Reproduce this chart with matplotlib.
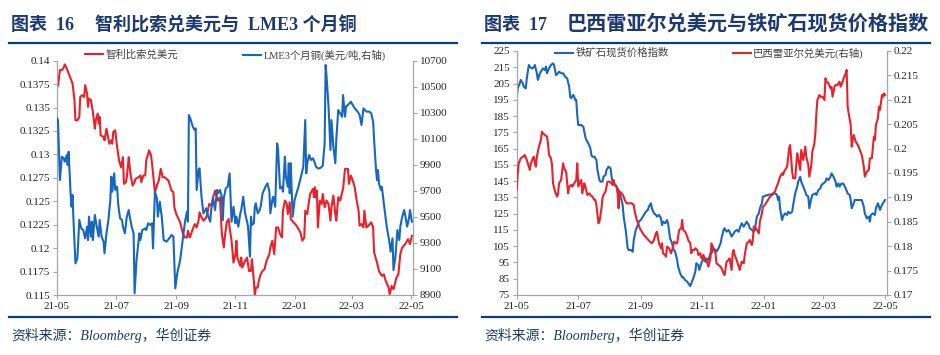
import pandas as pd
import matplotlib.pyplot as plt
from matplotlib.lines import Line2D
from matplotlib.ticker import FuncFormatter

plt.rcParams['font.family'] = ['Liberation Serif', 'Noto Sans CJK SC']

# ---------------- data (days counted from 2021-05-01) ----------------
clp_days = [0, 1, 3, 5, 7, 8, 10, 12, 14, 16,
            18, 19, 21, 23, 24, 26, 28, 29, 31, 32,
            33, 35, 37, 39, 40, 42, 43, 44, 45, 48,
            49, 51, 52, 54, 56, 57, 58, 60, 62, 64,
            66, 68, 69, 71, 72, 74, 75, 76, 78, 80,
            81, 84, 86, 87, 89, 91, 92, 95, 97, 98,
            101, 103, 105, 107, 109, 111, 115, 118, 120, 121,
            123, 127, 130, 132, 134, 135, 137, 140, 142, 144,
            146, 147, 149, 151, 154, 157, 159, 161, 163, 165,
            166, 168, 170, 172, 173, 175, 177, 178, 180, 182,
            184, 185, 186, 189, 190, 191, 194, 196, 198,
            200, 201, 203, 204, 205, 207, 208, 210, 212, 214,
            216, 219, 220, 222, 224, 226, 228, 230, 232, 233,
            235, 237, 238, 240, 241, 244, 247, 251, 253, 255,
            256, 258, 261, 264, 265, 266, 267, 268, 269, 271,
            273, 274, 276, 278, 280, 282, 283, 285, 287, 288,
            290, 292, 294, 295, 297, 300, 301, 303, 305, 307,
            309, 311, 312, 314, 316, 317, 319, 321, 324, 326,
            327, 330, 332, 335, 337, 339, 342, 343, 345, 347,
            350, 352, 354, 356, 359, 362, 364, 366]
clp_usd = [0.13829, 0.13729, 0.13900, 0.13900, 0.13929, 0.13961, 0.13918, 0.13864, 0.13811, 0.13757,
           0.13579, 0.13364, 0.13364, 0.13400, 0.13614, 0.13632, 0.13614, 0.13739, 0.13650, 0.13507,
           0.13596, 0.13579, 0.13454, 0.13275, 0.13364, 0.13436, 0.13329, 0.13400, 0.13204, 0.13186,
           0.13150, 0.13275, 0.13221, 0.13114, 0.13150, 0.13114, 0.13239, 0.13257, 0.13079, 0.12936,
           0.12864, 0.12971, 0.12686, 0.12704, 0.12757, 0.12971, 0.12864, 0.12775, 0.12668, 0.12704,
           0.12739, 0.12757, 0.12775, 0.12704, 0.12775, 0.12775, 0.12936, 0.13043, 0.12989, 0.12900,
           0.12596, 0.12668, 0.12721, 0.12846, 0.12757, 0.12757, 0.12721, 0.12614, 0.12596, 0.12436,
           0.12364, 0.12275, 0.12150, 0.12114, 0.12114, 0.12186, 0.12114, 0.12204, 0.12257, 0.12221,
           0.12293, 0.12382, 0.12329, 0.12293, 0.12329, 0.12471, 0.12454, 0.12543, 0.12614, 0.12543,
           0.12507, 0.12543, 0.12150, 0.12007, 0.12114, 0.12275, 0.12311, 0.12221, 0.12079, 0.11846,
           0.11936, 0.12079, 0.11900, 0.11811, 0.11900, 0.11793, 0.11864, 0.11900, 0.11757,
           0.11757, 0.11882, 0.11650, 0.11489, 0.11579, 0.11579, 0.11650, 0.11721, 0.11757, 0.11775,
           0.11864, 0.11936, 0.12007, 0.12079, 0.11936, 0.12221, 0.12221, 0.12150, 0.12114, 0.12400,
           0.12507, 0.12471, 0.12364, 0.12489, 0.12311, 0.12275, 0.12239, 0.12168, 0.12079, 0.12114,
           0.12400, 0.12364, 0.12579, 0.12632, 0.12543, 0.12650, 0.12543, 0.12614, 0.12221, 0.12507,
           0.12471, 0.12579, 0.12436, 0.12507, 0.12471, 0.12293, 0.12436, 0.12561, 0.12364, 0.12293,
           0.12543, 0.12507, 0.12596, 0.12632, 0.12846, 0.12846, 0.12686, 0.12775, 0.12721, 0.12650,
           0.12507, 0.12400, 0.12239, 0.12257, 0.12221, 0.12400, 0.12221, 0.12239, 0.12275, 0.12221,
           0.11954, 0.11846, 0.11757, 0.11704, 0.11721, 0.11650, 0.11579, 0.11507, 0.11596, 0.11561,
           0.11686, 0.11721, 0.11936, 0.12007, 0.12043, 0.12096, 0.12043, 0.12132]

cu_days = [0, 1, 3, 5, 7, 8, 10, 11, 12, 14,
           15, 16, 17, 19, 21, 23, 25, 27, 29, 31,
           32, 33, 35, 36, 37, 39, 41, 43, 44, 46,
           48, 49, 51, 53, 55, 56, 57, 59, 60, 62,
           63, 65, 67, 68, 70, 72, 74, 75, 77, 79,
           80, 82, 85, 86, 88, 91, 92, 94, 96, 98,
           99, 101, 103, 104, 106, 108, 110, 113, 117, 118,
           120, 122, 124, 127, 130, 132, 134, 135, 136, 138,
           140, 142, 143, 144, 146, 147, 149, 151, 153, 154,
           156, 158, 159, 161, 163, 165, 166, 168, 170, 171,
           172, 174, 176, 178,
           180, 182, 184, 185, 187, 189, 190, 192, 194, 196,
           197, 199, 200, 201, 203, 204, 205, 207, 209, 210,
           212, 215, 217, 219, 220, 222, 223, 225, 227, 228,
           230, 232, 233, 235, 236, 238, 239, 240, 241, 243,
           245, 249, 252, 254, 256, 257, 258, 260, 262, 264,
           266, 267, 269, 271, 274, 276, 277, 278, 280, 282,
           283, 285, 287, 288, 290, 292, 294, 295, 297, 298,
           300, 303, 305, 307, 310, 312, 314, 316, 319, 322,
           324, 326, 327, 329, 330, 331, 332, 334, 335, 337,
           340, 343, 344, 346, 347, 349, 350, 351, 353, 354,
           356, 358, 360, 361, 363, 364, 366]
lme3_cu = [10257, 10244, 9783, 9963, 9950, 9924, 9975, 9899, 10001, 9681,
           9578, 9668, 9476, 9143, 9182, 9476, 9412, 9399, 9335, 9425,
           9322, 9502, 9348, 9463, 9322, 9515, 9425, 9348, 9476, 9348,
           9310, 9220, 9374, 9476, 9630, 9809, 9694, 9835, 9707, 9732,
           9604, 9489, 9476, 9425, 9374, 9502, 9553, 9502, 9425, 9374,
           8913, 9169, 9374, 9322, 9399, 9412, 9399, 9451, 9438, 9451,
           9258, 9694, 9643, 9502, 9617, 9502, 9322, 9310, 9348, 9361,
           9348, 8951, 9067, 9169, 9348, 9463, 9540, 9463, 10283, 10244,
           10193, 10167, 10180, 9707, 9860, 9873, 9655, 9527, 9553, 9566,
           9502, 9463, 9553, 9643, 9553, 9707, 9681, 9707, 9655, 9476,
           9643, 9719, 9732, 9835,
           9463, 9578, 9451, 9502, 9425, 9527, 9553, 9655, 9527, 9463,
           9425, 9194, 9502, 9438, 9451, 9578, 9604, 9527, 9553, 9578,
           9681, 9732, 9758, 9694, 9527, 9630, 9655, 9578, 10065, 10014,
           9719, 9732, 9694, 9963, 9809, 9732, 9912, 9681, 9912, 9502,
           9630, 9732, 9822, 9886, 10244, 9835, 9912, 9976, 9937, 9950,
           9912, 9886, 9873, 9873, 9891, 10065, 10667, 10577, 10347, 10014,
           10244, 10039, 9912, 10091, 10321, 10296, 10270, 10436, 10270, 10347,
           10360, 10385, 10360, 10334, 10309, 10283, 10206, 10334, 10309, 10309,
           10296, 10232, 10091, 9860, 9783, 9860, 9758, 9707, 9732, 9604,
           9425, 9297, 9233, 9335, 9092, 9194, 9297, 9399, 9322, 9425,
           9502, 9553, 9476, 9425, 9489, 9553, 9463]

ore_days = [0, 1, 3, 4, 6, 7, 9, 10, 12, 13,
            15, 17, 18, 20, 21, 23, 25, 26, 28, 29,
            30, 32, 34, 36, 37, 39, 41, 42, 44, 46,
            48, 50, 52, 53, 54, 56, 57, 58, 59, 60,
            61, 63, 64, 66, 68, 69, 71, 73, 74, 75,
            77, 79, 80, 82, 83, 85, 86, 88, 89, 91,
            93, 94, 95, 96, 98, 99, 101, 103, 105, 106,
            108, 110, 111, 113, 115, 116, 118, 120, 121, 123,
            125, 126, 128, 130, 131, 133, 134, 136, 138, 139,
            141, 143, 144, 145, 147, 149, 150, 152, 154, 155,
            157, 159, 160, 162, 164, 165, 167, 169, 170, 172,
            173, 175, 177, 178, 180, 181,
            183, 185, 187, 188, 190, 192, 193, 195, 197, 198,
            200, 202, 203, 205, 206, 208, 210, 211, 213, 215,
            216, 218, 220, 221, 223, 225, 226, 228, 230, 231,
            233, 235, 236, 238, 240, 241, 243, 244, 246, 249,
            253, 256, 258, 259, 260, 261, 263, 264, 266, 268,
            269, 271, 273, 274, 276, 278, 279, 281, 282, 284,
            286, 287, 289, 290, 292, 293, 296, 297, 299, 301,
            302, 304, 306, 307, 309, 311, 312, 314, 316, 317,
            319, 320, 322, 324, 326, 328, 330, 331, 332, 334,
            335, 337, 340, 342, 344, 345, 347, 349, 350, 351,
            353, 355, 356, 358, 359, 360, 362, 363, 365]
ore_index = [195.9, 202.0, 205.1, 207.2, 205.1, 203.1, 202.0, 208.2, 216.4, 215.4,
             214.3, 215.0, 216.4, 211.3, 207.2, 211.3, 213.3, 214.3, 213.3, 215.4,
             211.3, 214.3, 216.4, 217.4, 216.4, 210.2, 211.3, 212.3, 211.3, 211.3,
             209.2, 208.2, 203.1, 196.9, 195.9, 198.0, 196.9, 194.9, 194.9, 185.7,
             179.5, 179.5, 179.5, 178.5, 172.3, 170.3, 168.2, 165.2, 161.1, 160.0,
             160.0, 158.0, 151.8, 145.7, 144.7, 144.7, 147.7, 148.8, 151.8, 153.9,
             152.9, 147.7, 144.7, 143.6, 142.6, 141.6, 139.5, 135.5, 130.3, 123.2,
             115.0, 103.7, 102.7, 102.7, 101.6, 108.8, 115.0, 118.0, 120.1, 121.1,
             123.2, 124.2, 126.2, 127.3, 129.3, 131.4, 128.3, 125.2, 124.2, 123.2,
             124.2, 122.1, 118.0, 120.1, 119.1, 121.1, 119.1, 109.8, 106.8, 103.7,
             101.6, 96.5, 92.4, 88.3, 85.9, 85.9, 84.2, 83.2, 82.2, 80.5,
             82.2, 85.2, 89.3, 94.5, 93.4, 90.4,
             94.5, 97.5, 95.5, 97.5, 96.5, 100.6, 100.6, 103.7, 102.7, 101.6,
             103.7, 106.8, 109.8, 115.0, 116.0, 113.9, 115.0, 113.9, 110.9, 112.9,
             113.9, 115.0, 113.9, 116.0, 119.1, 117.0, 118.0, 120.1, 118.0, 116.0,
             115.0, 113.9, 115.0, 123.2, 125.2, 128.3, 131.4, 135.5, 135.9, 136.5,
             137.1, 137.5, 136.5, 133.4, 135.5, 128.3, 121.1, 123.2, 125.2, 124.2,
             126.2, 125.2, 126.2, 130.3, 137.5, 141.6, 144.7, 147.7, 144.7, 141.6,
             138.5, 136.5, 135.5, 128.3, 134.4, 136.5, 137.5, 136.5, 139.5, 140.6,
             142.6, 143.6, 144.7, 146.7, 145.7, 147.7, 149.8, 147.7, 144.7, 141.6,
             143.6, 141.6, 143.6, 143.2, 140.6, 137.5, 136.5, 133.4, 128.3, 131.4,
             133.4, 133.4, 133.4, 133.4, 129.3, 125.2, 122.1, 123.2, 120.1, 124.2,
             125.2, 124.2, 128.3, 131.4, 129.3, 127.3, 130.3, 131.4, 133.4]

brl_days = [0, 1, 2, 4, 6, 7, 8, 10, 12, 13,
            14, 16, 17, 18, 19, 20, 22, 24, 25, 26,
            28, 30, 31, 32, 34, 35, 36, 38, 40, 41,
            42, 44, 45, 46, 47, 49, 51, 52, 54, 55,
            57, 59, 60, 61, 63, 64, 65, 67, 68, 70,
            72, 73, 75, 77, 78, 79, 81, 82, 84, 85,
            86, 88, 89, 90, 92, 94, 95, 96, 97, 99,
            100, 101, 102, 104, 106, 107, 109, 112, 114, 116,
            117, 119, 121, 122, 124, 126, 129, 132, 134, 136,
            138, 139, 141, 143, 144, 145, 147, 148, 149, 151,
            153, 155, 156, 158, 159, 161, 163, 164, 165, 167,
            169, 170, 172, 173, 174, 176, 177, 179, 180,
            182, 183, 185, 187, 188, 190, 192, 193, 195, 197,
            198, 200, 202, 203, 205, 206, 208, 210, 211, 213,
            214, 215, 216, 218, 220, 221, 223, 225, 226, 228,
            230, 231, 233, 234, 235, 236, 238, 240, 241, 243,
            244, 246, 248, 249, 251, 253, 254, 256, 257, 259,
            260, 261, 263, 264, 265, 267, 268, 270, 271, 273,
            274, 276, 278, 279, 281, 282, 284, 286, 287, 289,
            290, 292, 293, 295, 296, 297, 298, 300, 301, 303,
            305, 306, 307, 309, 311, 312, 313, 315, 316, 318,
            320, 321, 323, 324, 326, 327, 328, 329, 331, 332,
            333, 334, 336, 337, 339, 340, 342, 344, 345, 347,
            349, 350, 352, 354, 355, 356, 358, 359, 360, 362,
            363, 364, 365]
brl_usd = [0.19152, 0.19493, 0.19698, 0.19801, 0.19835, 0.19835, 0.19869, 0.19767, 0.19630, 0.19562,
           0.19698, 0.19801, 0.19835, 0.19698, 0.19630, 0.19835, 0.20040, 0.20176, 0.20347, 0.20313,
           0.20279, 0.20245, 0.20108, 0.19869, 0.19801, 0.19664, 0.19289, 0.19118, 0.19015, 0.19084,
           0.19289, 0.19357, 0.19528, 0.19698, 0.19596, 0.19528, 0.19084, 0.19221, 0.19255, 0.19221,
           0.19289, 0.19357, 0.19698, 0.19221, 0.19323, 0.19357, 0.19084, 0.19289, 0.19221, 0.19050,
           0.19084, 0.19050, 0.19015, 0.18947, 0.18947, 0.18845, 0.18469, 0.18503, 0.18776, 0.18981,
           0.19050, 0.19118, 0.19221, 0.19323, 0.19323, 0.19289, 0.19255, 0.19357, 0.19255, 0.19221,
           0.19084, 0.18776, 0.19118, 0.19084, 0.19015, 0.18947, 0.18879, 0.18879, 0.18879, 0.18845,
           0.18708, 0.18537, 0.18435, 0.18367, 0.18298, 0.18230, 0.18162, 0.18093, 0.18059, 0.18127,
           0.18264, 0.18298, 0.18059, 0.17957, 0.18059, 0.17854, 0.17820, 0.17786, 0.17991, 0.17957,
           0.17854, 0.17991, 0.18093, 0.18059, 0.18059, 0.18333, 0.18367, 0.18537, 0.18333, 0.18298,
           0.18196, 0.18127, 0.18059, 0.17854, 0.17923, 0.17923, 0.17957, 0.17923, 0.17820,
           0.17854, 0.17752, 0.17820, 0.17718, 0.17718, 0.17581, 0.17752, 0.18059, 0.17957, 0.17854,
           0.17649, 0.17615, 0.17581, 0.17547, 0.17444, 0.17410, 0.17684, 0.17718, 0.17752, 0.17513,
           0.17854, 0.17923, 0.17820, 0.17718, 0.17581, 0.17513, 0.17684, 0.17649, 0.17820, 0.18059,
           0.18093, 0.18127, 0.18025, 0.18127, 0.18401, 0.18401, 0.18333, 0.18264, 0.18503, 0.18674,
           0.18810, 0.18845, 0.18913, 0.18947, 0.19015, 0.19050, 0.19084, 0.19118, 0.19186, 0.19289,
           0.19357, 0.19425, 0.19494, 0.19460, 0.19528, 0.19596, 0.19630, 0.20006, 0.20074, 0.19528,
           0.19391, 0.19391, 0.19903, 0.19801, 0.19562, 0.19972, 0.19767, 0.20040, 0.19835, 0.19664,
           0.19425, 0.19664, 0.19937, 0.20108, 0.20313, 0.20723, 0.20996, 0.21098, 0.21064, 0.21064,
           0.20996, 0.21440, 0.21372, 0.21337, 0.21235, 0.21269, 0.21064, 0.21269, 0.21303, 0.21303,
           0.21372, 0.21269, 0.21372, 0.21440, 0.21542, 0.21611, 0.20859, 0.20723, 0.20484, 0.20040,
           0.20176, 0.20279, 0.20142, 0.20108, 0.20040, 0.19972, 0.19869, 0.19630, 0.19425, 0.19528,
           0.19562, 0.19801, 0.19801, 0.20245, 0.20176, 0.20484, 0.20620, 0.20859, 0.20791, 0.21098,
           0.21064, 0.21132, 0.21098]

month_ticks = ['2021-05-01', '2021-07-01', '2021-09-01', '2021-11-01',
               '2022-01-01', '2022-03-01', '2022-05-01']

# ---------------- styling ----------------
W, H = 940, 355
RED = '#e8212b'
BLUE = '#1767c1'
NAVY = '#1c3a70'
RULE = '#0b3c80'
GRAY = '#a6a6a6'
TXT = '#262626'
BASE = pd.Timestamp('2021-05-01')


def to_dates(days):
    return BASE + pd.to_timedelta(days, unit='D')


def trim(v, pos):
    return f'{v:.4f}'.rstrip('0').rstrip('.')


def style(ax, ax2, xmax):
    ax.set_xlim(BASE, BASE + pd.Timedelta(days=xmax))
    ax.set_xticks(pd.to_datetime(month_ticks))
    ax.set_xticklabels([pd.Timestamp(d).strftime('%y-%m') for d in month_ticks])
    for a in (ax, ax2):
        a.spines['top'].set_visible(False)
        for s in a.spines.values():
            s.set_color(GRAY)
            s.set_linewidth(0.9)
        a.tick_params(direction='out', length=3, width=0.8, color=GRAY,
                      labelsize=8, labelcolor=TXT, pad=2)
    ax.spines['right'].set_visible(False)
    ax2.spines['left'].set_visible(False)
    ax2.spines['bottom'].set_visible(False)


def legend(ax, handle, label, x, y):
    lg = ax.legend([handle], [label], loc='center left',
                   bbox_to_anchor=(x / W, 1 - y / H), bbox_transform=fig.transFigure,
                   frameon=False, borderpad=0, borderaxespad=0,
                   handlelength=1.75, handletextpad=0.2,
                   prop=dict(family=['Liberation Serif', 'Noto Sans CJK SC'], size=7.5))
    for t in lg.get_texts():
        t.set_color('#404040')
    return lg


def frame(x0, x1, label, xt, title, tsize):
    fig.text((x0 + 2) / W, 1 - 25.5 / H, label, fontsize=13, fontweight='bold',
             color=NAVY, va='center', ha='left')
    fig.text(xt / W, 1 - 25.5 / H, title, fontsize=tsize, fontweight='bold',
             color=NAVY, va='center', ha='left')
    fig.add_artist(Line2D([x0 / W, x1 / W], [1 - 42.5 / H] * 2,
                          transform=fig.transFigure, color=RULE, lw=1.6))
    fig.add_artist(Line2D([x0 / W, x1 / W], [1 - 316.5 / H] * 2,
                          transform=fig.transFigure, color=RULE, lw=1.6))
    fig.text((x0 + 2) / W, 1 - 335 / H, '资料来源：Bloomberg，华创证券', fontsize=10,
             style='italic', color=NAVY, va='center', ha='left')


fig = plt.figure(figsize=(W / 100, H / 100), dpi=100)

# ---------------- left: CLP vs LME copper ----------------
axL = fig.add_axes([57 / W, 1 - 295 / H, (412.7 - 57) / W, (295 - 60.7) / H])
axL2 = axL.twinx()
l1, = axL.plot(to_dates(clp_days), clp_usd, color=RED, lw=1.5)
l2, = axL2.plot(to_dates(cu_days), lme3_cu, color=BLUE, lw=1.5)
axL.set_ylim(0.115, 0.14)
axL.set_yticks([0.115 + 0.0025 * i for i in range(11)])
axL.yaxis.set_major_formatter(FuncFormatter(trim))
axL2.set_ylim(8900, 10700)
axL2.set_yticks(list(range(8900, 10701, 200)))
style(axL, axL2, 366.8)
legend(axL, l1, '智利比索兑美元', 85, 55)
legend(axL2, l2, 'LME3个月铜(美元/吨,右轴)', 243, 55)
frame(9, 456.5, '图表  16', 95, '智利比索兑美元与  LME3 个月铜', 13)

# ---------------- right: BRL vs iron ore ----------------
axR = fig.add_axes([516.7 / W, 1 - 295 / H, (886.7 - 516.7) / W, (295 - 51) / H])
axR2 = axR.twinx()
r1, = axR.plot(to_dates(ore_days), ore_index, color=BLUE, lw=1.5)
r2, = axR2.plot(to_dates(brl_days), brl_usd, color=RED, lw=1.5)
axR.set_ylim(75, 225)
axR.set_yticks(list(range(75, 226, 10)))
axR2.set_ylim(0.17, 0.22)
axR2.set_yticks([0.17 + 0.005 * i for i in range(11)])
axR2.yaxis.set_major_formatter(FuncFormatter(trim))
style(axR, axR2, 366.7)
legend(axR, r1, '铁矿石现货价格指数', 555, 53)
legend(axR2, r2, '巴西雷亚尔兑美元(右轴)', 732.7, 53)
frame(482, 930, '图表  17', 567, '巴西雷亚尔兑美元与铁矿石现货价格指数', 14.5)

fig.savefig('out.png', dpi=100)
